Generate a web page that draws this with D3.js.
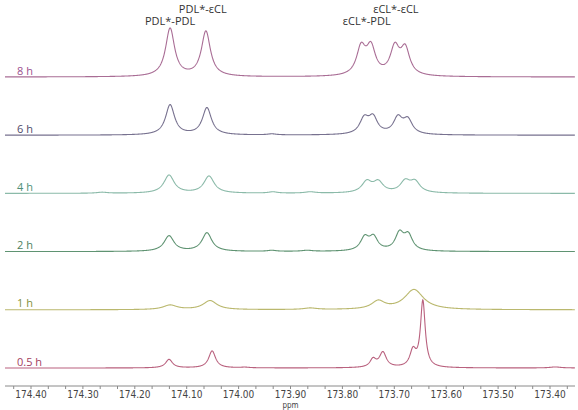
<!DOCTYPE html>
<html>
<head>
<meta charset="utf-8">
<script src="https://cdn.jsdelivr.net/npm/d3@7"></script>
<style>
  body { margin: 0; background: #fff; }
  .tick-label { font-family: "DejaVu Sans Condensed", "Liberation Sans Narrow", "DejaVu Sans", sans-serif; font-size: 10px; fill: #444; }
  .trace-label { font-family: "Open Sans", sans-serif; font-size: 11px; }
  .peak-label { font-family: "Open Sans", sans-serif; font-size: 11px; fill: #333; }
</style>
</head>
<body>
<div id="chart"></div>
<script>
// time points, top to bottom
const traceLabels = ["8 h", "6 h", "4 h", "2 h", "1 h", "0.5 h"];
const lineColors  = ["#a96d95", "#77718f", "#8bbaa9", "#5f9372", "#bab86e", "#b9617e"];
const labelColors = ["#9b4f8e", "#4e4a6a", "#4f8f78", "#4e7f5e", "#7f8f3a", "#a2405e"];

// peaks: [ppm, height, half-width (ppm)]
const peaks8h = [[174.132, 48, 0.0105], [174.063, 45, 0.0105],
  [173.764, 27, 0.0105], [173.745, 27, 0.0105], [173.699, 27, 0.0105], [173.679, 26, 0.0105]];
const peaks6h = [[174.132, 30, 0.0105], [174.061, 27, 0.0105], [173.936, 1, 0.01],
  [173.758, 15, 0.0105], [173.741, 16, 0.0105], [173.693, 16, 0.0105], [173.674, 14, 0.0105]];
const peaks4h = [[174.263, 1, 0.012], [174.134, 18, 0.012], [174.057, 17, 0.012],
  [173.934, 1.3, 0.01], [173.862, 1.3, 0.012],
  [173.753, 11, 0.0115], [173.731, 10.5, 0.0115], [173.679, 11, 0.0115], [173.660, 10.5, 0.0115]];
const peaks2h = [[174.134, 15.5, 0.0115], [174.061, 18.5, 0.0115], [173.936, 1, 0.01], [173.868, 1, 0.012],
  [173.757, 13, 0.0098], [173.740, 13, 0.0098], [173.690, 17, 0.0098], [173.673, 15, 0.0098]];
const peaks1h = [[174.132, 4.5, 0.016], [174.055, 9, 0.016], [173.862, 1.5, 0.015],
  [173.731, 8, 0.015], [173.662, 20, 0.022]];
const peaks05h = [[174.134, 8.5, 0.008], [174.051, 17, 0.008], [173.988, 0.6, 0.01],
  [173.741, 8, 0.007], [173.722, 15, 0.008], [173.664, 16, 0.007], [173.645, 66, 0.0055], [173.390, 1, 0.012]];
const allPeaks = [peaks8h, peaks6h, peaks4h, peaks2h, peaks1h, peaks05h];

// assignments above the 8 h trace
const peakNames = ["PDL*-PDL", "PDL*-εCL", "εCL*-PDL", "εCL*-εCL"];
const peakNamePpm = [174.132, 174.069, 173.753, 173.697];
const peakNameRow = [1, 0, 1, 0];

const tickValues = [174.40, 174.30, 174.20, 174.10, 174.00, 173.90, 173.80, 173.70, 173.60, 173.50, 173.40];

const width = 578, height = 410;

const svg = d3.select("#chart").append("svg")
    .attr("width", width)
    .attr("height", height);

// ppm runs right to left
const x = d3.scaleLinear()
    .domain([174.40, 173.40])
    .range([31, 550]);

const ppmLeft = x.invert(5), ppmRight = x.invert(575);

const base = d3.scalePoint()
    .domain(traceLabels)
    .range([77, 368]);

const y = d3.scaleLinear()
    .domain([0, 70])
    .range([0, -70]);

const grid = d3.range(ppmLeft, ppmRight, -0.0005);

function spectrum(peaks) {
    return grid.map(p => {
        let s = 0;
        peaks.forEach(([c, h, w]) => { s += h * w * w / ((p - c) * (p - c) + w * w); });
        return [p, s];
    });
}

const line = d3.line()
    .x(d => x(d[0]))
    .y(d => y(d[1]));

traceLabels.forEach((lab, i) => {
    let g = svg.append("g")
        .attr("transform", `translate(0, ${base(lab)})`);

    g.append("path")
        .datum(spectrum(allPeaks[i]))
        .attr("fill", "none")
        .attr("stroke", lineColors[i])
        .attr("stroke-width", 1.1)
        .attr("d", line);

    g.append("text")
        .attr("class", "trace-label")
        .attr("x", 17)
        .attr("y", -2.5)
        .attr("fill", labelColors[i])
        .text(lab);
});

// peak assignments
svg.selectAll(".peak-label")
    .data(peakNames)
    .enter()
    .append("text")
    .attr("class", "peak-label")
    .attr("text-anchor", "middle")
    .attr("x", (d, i) => x(peakNamePpm[i]))
    .attr("y", (d, i) => peakNameRow[i] ? 25 : 13)
    .text(d => d);

// ppm axis
const axisY = 386;
const axis = svg.append("g").attr("transform", `translate(0, ${axisY})`);

axis.append("line")
    .attr("x1", 5).attr("x2", 575)
    .attr("stroke", "#8a8a8a");

const minorTicks = d3.range(0, 34).map(k => 174.40 + 0.1 / 3 - k * 0.1 / 3)
    .filter(v => v <= ppmLeft && v >= ppmRight);

axis.selectAll(".minor")
    .data(minorTicks)
    .enter()
    .append("line")
    .attr("x1", d => x(d)).attr("x2", d => x(d))
    .attr("y1", 0).attr("y2", 3)
    .attr("stroke", "#8a8a8a");

axis.selectAll(".tick-label")
    .data(tickValues)
    .enter()
    .append("text")
    .attr("class", "tick-label")
    .attr("text-anchor", "middle")
    .attr("x", d => x(d))
    .attr("y", 12)
    .text(d => d.toFixed(2));

axis.append("text")
    .attr("class", "tick-label")
    .attr("text-anchor", "middle")
    .attr("x", x(173.90))
    .attr("y", 22)
    .style("font-size", "8px")
    .text("ppm");
</script>
</body>
</html>
